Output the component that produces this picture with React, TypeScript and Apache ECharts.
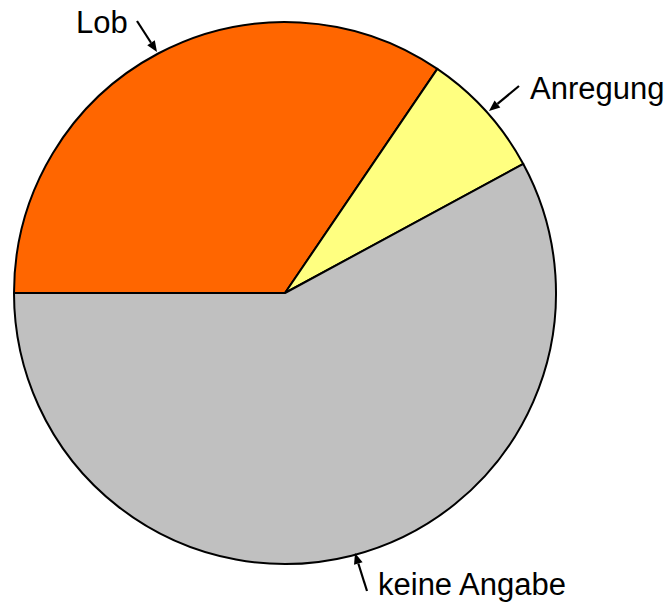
import React, { useEffect, useRef } from "react";
import * as echarts from "echarts";

const categories = ["Lob", "Anregung", "keine Angabe"];
const values = [34.5, 7.6, 57.9];
const colors = ["#ff6600", "#ffff80", "#c0c0c0"];

// label anchor positions (layout only)
const labelPos = [
  { x: 76, y: 22, align: "left" },
  { x: 530, y: 88, align: "left" },
  { x: 378, y: 584, align: "left" },
];
// arrows: [fromX, fromY, tipX, tipY]
const arrows = [
  [137, 21, 157, 52],
  [519, 86, 489, 111],
  [367, 591, 355, 553],
];

function arrowGraphics() {
  const els: any[] = [];
  arrows.forEach(([x1, y1, x2, y2]) => {
    const dx = x2 - x1;
    const dy = y2 - y1;
    const len = Math.sqrt(dx * dx + dy * dy);
    const ux = dx / len;
    const uy = dy / len;
    const hl = 11;
    const hw = 4.5;
    const bx = x2 - ux * hl;
    const by = y2 - uy * hl;
    els.push({
      type: "line",
      shape: { x1, y1, x2: bx, y2: by },
      style: { stroke: "#000", lineWidth: 2.2 },
      z: 100,
    });
    els.push({
      type: "polygon",
      shape: {
        points: [
          [x2, y2],
          [bx - uy * hw, by + ux * hw],
          [bx + uy * hw, by - ux * hw],
        ],
      },
      style: { fill: "#000" },
      z: 100,
    });
  });
  return els;
}

export default function App() {
  const ref = useRef<HTMLDivElement>(null);
  useEffect(() => {
    if (!ref.current) return;
    const chart = echarts.init(ref.current, null, { renderer: "svg" });
    chart.setOption({
      animation: false,
      backgroundColor: "#ffffff",
      graphic: arrowGraphics(),
      series: [
        {
          type: "pie",
          center: [285, 293],
          radius: 271,
          startAngle: 180,
          clockwise: true,
          avoidLabelOverlap: false,
          data: categories.map((name, i) => ({
            name,
            value: values[i],
            itemStyle: { color: colors[i] },
          })),
          itemStyle: { borderColor: "#000", borderWidth: 2 },
          label: {
            show: true,
            position: "outside",
            formatter: "{b}",
            color: "#000",
            fontSize: 31,
            fontFamily: "Liberation Sans, Arial, sans-serif",
          },
          labelLine: { show: false },
          labelLayout: (params: any) => {
            const p = labelPos[params.dataIndex];
            return { x: p.x, y: p.y, align: p.align, verticalAlign: "middle" };
          },
          emphasis: { disabled: true },
        },
      ],
    });
    return () => chart.dispose();
  }, []);
  return (
    <div
      ref={ref}
      style={{ position: "fixed", left: 0, top: 0, width: 666, height: 606 }}
    />
  );
}
